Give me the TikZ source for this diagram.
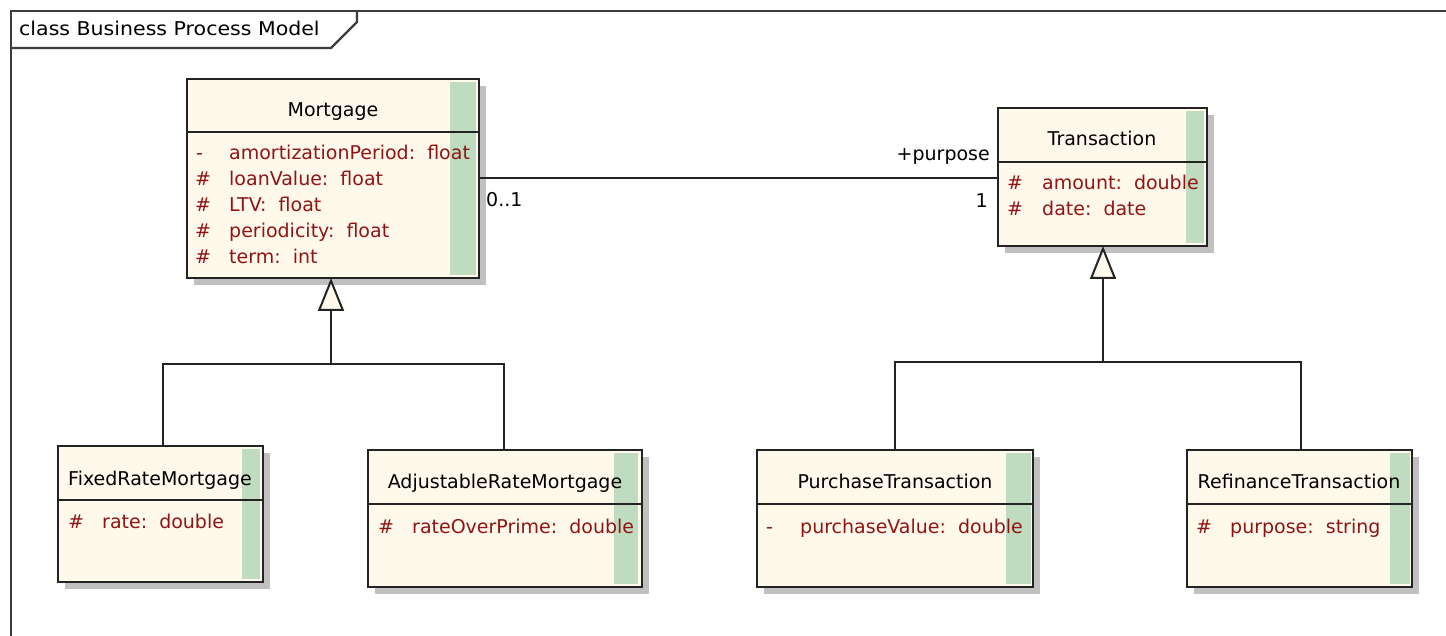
\documentclass[tikz,border=0pt]{standalone}
\usepackage{fontspec}
\usepackage{graphicx}
\setmainfont{DejaVu Sans}
\usetikzlibrary{arrows.meta}
\definecolor{classfill}{RGB}{255,249,236}
\definecolor{stripec}{RGB}{192,220,192}
\definecolor{shadowc}{RGB}{192,192,192}
\definecolor{linec}{RGB}{35,35,35}
\definecolor{attrc}{RGB}{145,20,20}
\definecolor{framec}{RGB}{60,60,60}
\tikzset{
  basefont/.style={font=\fontsize{19}{23}\selectfont},
  cls/.style={draw=linec, fill=classfill, line width=2pt, inner sep=0pt, outer sep=0pt, rectangle},
  border/.style={draw=linec, line width=2pt},
  ttl/.style={basefont, inner sep=0pt, anchor=base, text=black},
  vis/.style={basefont, inner sep=0pt, anchor=base west, text=attrc},
  attr/.style={basefont, inner sep=0pt, anchor=base west, text=attrc},
  lbl/.style={basefont, inner sep=0pt, text=black},
  conn/.style={draw=linec, line width=2pt},
  gen/.style={draw=linec, line width=2pt, -{Triangle[length=33pt, width=26pt, fill=classfill]}},
  framel/.style={draw=framec, line width=2.2pt}
}
\newcommand\umlbox[8]{%
  \fill[shadowc] (#2+7,#3+7) rectangle (#4+7,#5+7);
  \node[cls, minimum width={#4-#2}, minimum height={#5-#3}, anchor=north west] (#1) at (#2,#3) {};
  \fill[stripec] (#7,#3+3) rectangle (#8,#5-3);
  \draw[border] (#2,#6) -- (#4,#6);
}
\begin{document}
\begin{tikzpicture}[x=1pt,y=-1pt]
\useasboundingbox (0,0) rectangle (1446,636);
\fill[white] (0,0) rectangle (1446,636);

% frame
\draw[framel] (11,636) -- (11,11) -- (1446,11);
\draw[framel] (11,48) -- (331,48) -- (357,22) -- (357,11);
\node[lbl, anchor=base west] (frameT) at (19,36) {\scalebox{1.08}[1]{class Business Process Model}};

% Mortgage
\umlbox{Mort}{187}{79}{479}{278}{132}{450}{476}
\node[ttl] (MortT) at (333,117) {Mortgage};
\node[vis] (MortV1) at (196,160) {-};
\node[attr] (MortA1) at (229,160) {amortizationPeriod:~~float};
\node[vis] (MortV2) at (195,186) {\#};
\node[attr] (MortA2) at (229,186) {loanValue:~~float};
\node[vis] (MortV3) at (195,212) {\#};
\node[attr] (MortA3) at (229,212) {LTV:~~float};
\node[vis] (MortV4) at (195,238) {\#};
\node[attr] (MortA4) at (229,238) {periodicity:~~float};
\node[vis] (MortV5) at (195,264) {\#};
\node[attr] (MortA5) at (229,264) {term:~~int};

% Transaction
\umlbox{Trans}{998}{108}{1207}{246}{162}{1186}{1204}
\node[ttl] (TransT) at (1102,146) {Transaction};
\node[vis] (TransV1) at (1007,190) {\#};
\node[attr] (TransA1) at (1042,190) {amount:~~double};
\node[vis] (TransV2) at (1007,216) {\#};
\node[attr] (TransA2) at (1042,216) {date:~~date};

% FixedRateMortgage
\umlbox{FRM}{58}{446}{263}{582}{500}{242}{260}
\node[ttl] (FRMT) at (160,485) {FixedRateMortgage};
\node[vis] (FRMV1) at (68,528) {\#};
\node[attr] (FRMA1) at (102,528) {rate:~~double};

% AdjustableRateMortgage
\umlbox{ARM}{368}{450}{642}{587}{504}{614}{638}
\node[ttl] (ARMT) at (505,488) {AdjustableRateMortgage};
\node[vis] (ARMV1) at (378,533) {\#};
\node[attr] (ARMA1) at (412,533) {rateOverPrime:~~double};

% PurchaseTransaction
\umlbox{PT}{757}{450}{1033}{587}{504}{1006}{1031}
\node[ttl] (PTT) at (895,488) {PurchaseTransaction};
\node[vis] (PTV1) at (766,533) {-};
\node[attr] (PTA1) at (800,533) {purchaseValue:~~double};

% RefinanceTransaction
\umlbox{RT}{1187}{450}{1412}{587}{504}{1390}{1410}
\node[ttl] (RTT) at (1299,488) {RefinanceTransaction};
\node[vis] (RTV1) at (1196,533) {\#};
\node[attr] (RTA1) at (1230,533) {purpose:~~string};

% association
\coordinate (asc) at (700,178);
\draw[conn] (Mort.east |- asc) -- (Trans.west |- asc);
\node[lbl, anchor=base east] (purp) at (990,161) {+purpose};
\node[lbl, anchor=base east] (mult1) at (988,208) {1};
\node[lbl, anchor=base west] (mult01) at (486,207) {0..1};

% generalizations
\coordinate (jM) at (331,364);
\draw[gen] (jM) -- (jM |- Mort.south);
\draw[conn] ([xshift=2.5pt]FRM.north) |- (jM) -| ([xshift=-1pt]ARM.north);

\coordinate (jT) at (1103,362);
\draw[gen] (jT) -- (jT |- Trans.south);
\draw[conn] (PT.north) |- (jT) -| ([xshift=1.5pt]RT.north);
\end{tikzpicture}
\end{document}
